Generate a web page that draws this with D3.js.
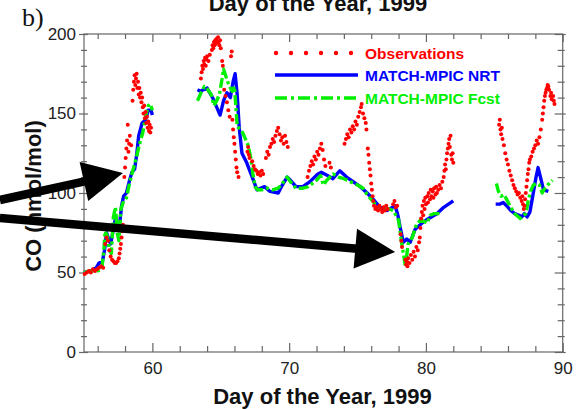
<!DOCTYPE html>
<html>
<head>
<meta charset="utf-8">
<script src="https://cdn.jsdelivr.net/npm/d3@7"></script>
<style>
  html, body { margin: 0; padding: 0; background: #fff; }
  svg { display: block; font-family: "Liberation Sans", Arial, sans-serif; }
</style>
</head>
<body>
<div id="chart"></div>
<script>
// Observed CO (red dots), [day of year, nmol/mol]
var observations = [
  [55.05,49],[55.2,50],[55.35,51],[55.5,50],[55.65,52],[55.8,51],[55.95,52],[56.1,53],[56.25,54],[56.4,53],
  [56.55,68],[56.65,72],[56.75,70],[56.85,64],[56.95,60],[57.05,58],[57.15,57],[57.25,56],[57.35,56],[57.45,57],
  [57.55,59],[57.6,62],[57.65,65],[57.7,68],[57.75,72],[57.8,76],[57.85,80],
  [57.95,110],[58.0,116],[58.05,122],[58.1,128],[58.15,133],[58.2,143],[58.25,126],[58.3,131],[58.35,136],[58.45,130],
  [58.55,158],[58.6,165],[58.65,170],[58.7,174],[58.75,168],[58.8,172],[58.85,175],[58.9,166],[58.95,170],[59.0,162],
  [59.05,166],[59.1,160],[59.15,163],[59.2,157],[59.25,160],[59.3,154],[59.35,150],[59.4,155],[59.45,147],[59.5,151],
  [59.55,144],[59.6,148],[59.65,141],[59.7,145],[59.75,139],[59.8,143],[59.85,138],[59.9,141],
  [63.55,172],[63.6,176],[63.65,180],[63.7,178],[63.75,183],[63.8,181],[63.85,185],[63.9,180],[63.95,184],[64.0,186],
  [64.1,183],[64.2,187],[64.35,190],[64.4,193],[64.45,191],[64.5,195],[64.55,193],[64.6,196],[64.65,194],[64.7,197],
  [64.75,195],[64.8,198],[64.85,195],[64.9,193],[64.95,196],[65.0,191],[65.1,183],[65.15,180],
  [65.25,165],[65.35,161],[65.45,157],[65.55,152],[65.65,148],[65.75,186],[65.8,189],[65.85,146],[65.9,140],[65.95,135],
  [66.0,131],[66.05,126],[66.1,121],[66.15,116],[66.2,113],[66.3,110],
  [66.95,126],[67.0,129],[67.05,124],[67.1,122],[67.3,120],[67.4,117],[67.5,115],[67.6,114],[67.7,112],[67.8,113],
  [67.9,111],[68.0,114],[68.1,112],
  [68.3,122],[68.4,126],[68.5,124],[68.6,129],[68.7,131],[68.8,134],[68.9,132],[69.0,136],[69.1,139],[69.2,141],
  [69.3,137],[69.4,133],[69.5,135],[69.6,131],[69.7,136],[69.8,132],[69.9,129],
  [71.35,110],[71.45,114],[71.55,117],[71.65,120],[71.75,118],[71.85,123],[71.95,121],[72.05,126],[72.15,124],[72.25,128],
  [72.35,131],[72.45,127],[72.55,121],[72.65,117],[72.95,119],[73.05,116],
  [74.05,131],[74.15,134],[74.25,137],[74.35,135],[74.45,140],[74.55,138],[74.65,142],[74.75,140],[74.85,145],[74.95,143],
  [75.05,148],[75.15,151],[75.25,154],[75.3,156],[75.4,150],[75.5,147],[75.6,144],[75.65,140],
  [75.75,128],[75.8,124],[75.85,119],[75.9,115],[75.95,111],[76.0,106],[76.05,102],[76.1,98],[76.15,95],[76.2,92],
  [76.3,90],[76.4,91],[76.5,89],[76.6,92],[76.7,90],[76.8,88],[76.9,91],[77.0,89],[77.1,92],[77.2,90],
  [77.6,93],[77.7,95],[77.8,91],[77.9,92],
  [78.15,74],[78.2,70],[78.25,66],[78.5,58],[78.55,55],[78.6,57],[78.65,54],[78.7,59],[78.8,56],[78.9,61],
  [79.0,58],[79.1,63],[79.2,60],[79.3,66],[79.4,64],[79.5,69],[79.55,72],
  [79.6,78],[79.65,84],[79.7,88],[79.75,92],[79.8,86],[79.85,95],[79.9,90],[79.95,97],[80.0,93],[80.1,98],
  [80.15,94],[80.2,100],[80.3,96],[80.35,102],[80.4,98],[80.5,101],[80.55,97],[80.6,103],[80.7,99],[80.75,104],
  [80.8,100],[80.9,102],[81.0,105],[81.1,103],[81.2,107],[81.3,110],[81.35,114],[81.4,118],[81.45,115],[81.5,121],
  [81.55,125],[81.6,128],[81.65,131],[81.7,134],[81.75,129],[81.8,136],[81.85,124],[81.9,121],[81.95,125],[82.0,119],
  [85.35,143],[85.4,146],[85.45,140],[85.5,137],[85.55,141],[85.6,134],[85.7,130],[85.8,125],[85.9,121],[86.0,118],
  [86.1,114],[86.2,111],[86.3,108],[86.4,105],[86.5,103],[86.6,101],[86.7,99],[86.8,100],[86.9,97],[87.0,95],
  [87.05,98],[87.1,93],[87.15,90],[87.2,92],[87.25,96],[87.3,100],[87.35,104],[87.4,108],[87.45,112],[87.5,115],
  [87.55,119],[87.6,121],[87.7,123],[87.8,126],[87.9,128],[88.0,130],[88.1,133],[88.2,131],[88.3,135],[88.4,140],
  [88.5,146],[88.55,150],[88.6,154],[88.65,158],[88.7,161],[88.75,163],[88.8,165],[88.85,166],[88.9,168],[88.95,167],
  [89.0,165],[89.1,161],[89.15,163],[89.2,159],[89.3,161],[89.35,158],[89.4,156]
];

// MATCH-MPIC NRT (blue); null marks a gap in the model run
var nrt = [
  [55.0,50],[55.5,51],[55.9,53],[56.1,56],[56.35,57],[56.5,64],[56.65,75],[56.8,71],[56.95,68],[57.1,75],
  [57.3,84],[57.45,79],[57.6,80],[57.75,92],[57.9,98],[58.1,100],[58.3,107],[58.5,113],[58.7,115],[58.85,124],
  [59.0,136],[59.25,144],[59.5,146],[59.7,152],[59.9,152],[60.0,149],
  null,
  [63.3,165],[63.5,164],[64.0,166],[64.4,160],[64.7,154],[64.95,149],[65.2,158],[65.45,163],[65.7,160],[65.9,170],
  [66.05,175],[66.2,162],[66.35,141],[66.55,125],[66.9,119],[67.3,110],[67.65,102],[68.2,104],[68.6,101],[69.2,100],
  [69.5,105],[69.85,110],[70.1,108],[70.5,104],[71.0,104],[71.5,107],[72.1,112],[72.35,113],[72.8,111],[73.2,109],
  [73.7,114],[74.2,110],[74.7,107],[75.2,104],[75.7,100],[76.15,96],[76.65,91],[77.15,89],[77.75,92],[77.95,86],
  [78.1,79],[78.35,69],[78.6,71],[78.85,69],[79.2,77],[79.7,81],[80.2,84],[80.8,87],[81.3,91],[82.0,95],
  null,
  [85.1,93],[85.4,93],[85.65,94],[85.9,92],[86.2,89],[86.5,87],[86.8,86],[87.0,85],[87.2,87],[87.4,85],
  [87.6,88],[87.85,100],[88.05,110],[88.2,116],[88.4,109],[88.6,102],[88.95,101]
];

// MATCH-MPIC Fcst (green)
var fcst = [
  [55.0,50],[55.5,51],[56.0,51],[56.3,52],[56.45,64],[56.55,76],[56.7,73],[56.85,64],[57.0,62],[57.15,85],
  [57.3,91],[57.45,74],[57.55,70],[57.7,90],[57.9,95],[58.1,97],[58.3,105],[58.5,112],[58.7,118],[58.9,125],
  [59.1,132],[59.3,138],[59.5,148],[59.7,155],[59.85,156],[60.0,152],
  null,
  [63.3,158],[63.55,163],[63.8,167],[64.05,165],[64.3,162],[64.5,155],[64.7,158],[64.9,162],[65.1,172],[65.2,178],
  [65.35,174],[65.5,170],[65.7,166],[65.85,164],[66.0,167],[66.1,155],[66.2,142],[66.4,140],[66.6,138],[66.8,134],
  [67.0,130],[67.2,122],[67.35,112],[67.5,104],[67.7,102],[68.0,102],[68.4,103],[68.8,102],[69.2,103],[69.5,106],
  [69.85,110],[70.1,107],[70.5,103],[71.0,103],[71.4,104],[71.7,106],[72.0,108],[72.3,111],[72.5,105],[72.75,108],
  [73.2,112],[73.6,110],[74.0,109],[74.5,107],[75.0,105],[75.4,103],[75.7,99],[76.0,96],[76.3,93],[76.6,91],
  [77.0,90],[77.3,90],[77.6,89],[77.8,86],[78.0,83],[78.2,70],[78.35,62],[78.5,54],[78.7,68],[78.85,70],
  [79.0,72],[79.3,80],[79.6,83],[79.9,82],[80.1,81],[80.3,86],[80.6,87],[81.0,87],
  null,
  [85.15,106],[85.3,101],[85.5,98],[85.7,99],[85.9,96],[86.2,91],[86.5,87],[86.9,84],[87.1,86],[87.3,87],
  [87.5,96],[87.65,101],[87.85,105],[88.1,106],[88.3,105],[88.5,100],[88.7,103],[88.9,105],[89.25,108]
];

var xMajorTicks = [60, 70, 80, 90];
var xMinorTicks = [56, 58, 62, 64, 66, 68, 72, 74, 76, 78, 82, 84, 86, 88];
var yMajorTicks = [0, 50, 100, 150, 200];
var yMinorTicks = [10, 20, 30, 40, 60, 70, 80, 90, 110, 120, 130, 140, 160, 170, 180, 190];

var seriesNames = ['Observations', 'MATCH-MPIC NRT', 'MATCH-MPIC Fcst'];
var xTitle = 'Day of the Year, 1999';
var yTitle = 'CO (nmol/mol)';

// annotation arrows: [tail, tip] in data units
var arrows = [
  [[48.85, 95.6], [57.85, 112.6]],
  [[48.85, 84.3], [77.75, 62.9]]
];

(function () {
  'use strict';

  var width = 581, height = 409;
  var red = '#ff0000', blue = '#0000ff', green = '#00f000';
  var axisColor = '#666';

  var x = d3.scaleLinear().domain([55, 90]).range([84, 562.7]);
  var y = d3.scaleLinear().domain([0, 200]).range([352, 34]);

  var svg = d3.select('#chart').append('svg')
    .attr('width', width)
    .attr('height', height);

  // title of the panel above, partly cut off by the crop
  svg.append('text')
    .attr('x', 318).attr('y', 11)
    .attr('text-anchor', 'middle')
    .attr('font-size', 22).attr('font-weight', 'bold')
    .attr('fill', '#111')
    .text(xTitle);

  svg.append('text')
    .attr('x', 22).attr('y', 26)
    .attr('font-family', '"Liberation Serif", "Times New Roman", serif')
    .attr('font-size', 26)
    .attr('fill', '#111')
    .text('b)');

  // frame
  svg.append('rect')
    .attr('x', x(55)).attr('y', y(200))
    .attr('width', x(90) - x(55)).attr('height', y(0) - y(200))
    .attr('fill', 'none').attr('stroke', axisColor).attr('stroke-width', 1.2);

  function styleAxis(g) {
    g.select('.domain').remove();
    g.selectAll('.tick line').attr('stroke', axisColor).attr('stroke-width', 1.2);
    g.selectAll('.tick text')
      .attr('font-size', 17)
      .attr('font-family', '"Liberation Sans", Arial, sans-serif')
      .attr('fill', '#222');
  }

  // bottom axis, ticks pointing inward
  svg.append('g').attr('transform', 'translate(0,' + y(0) + ')')
    .call(d3.axisBottom(x).tickValues(xMinorTicks).tickSize(-6).tickFormat(''))
    .call(styleAxis);
  svg.append('g').attr('transform', 'translate(0,' + y(0) + ')')
    .call(d3.axisBottom(x).tickValues(xMajorTicks).tickSize(-9).tickPadding(10).tickFormat(d3.format('d')))
    .call(styleAxis);

  // top axis
  svg.append('g').attr('transform', 'translate(0,' + y(200) + ')')
    .call(d3.axisTop(x).tickValues(xMinorTicks).tickSize(-5).tickFormat(''))
    .call(styleAxis);
  svg.append('g').attr('transform', 'translate(0,' + y(200) + ')')
    .call(d3.axisTop(x).tickValues(xMajorTicks).tickSize(-8).tickFormat(''))
    .call(styleAxis);

  // left axis, ticks cross the axis line
  svg.append('g').attr('transform', 'translate(' + x(55) + ',0)')
    .call(d3.axisLeft(y).tickValues(yMinorTicks).tickSize(3).tickFormat(''))
    .call(styleAxis)
    .selectAll('.tick line').attr('x2', -3).attr('x1', 3);
  svg.append('g').attr('transform', 'translate(' + x(55) + ',0)')
    .call(d3.axisLeft(y).tickValues(yMajorTicks).tickSize(5).tickPadding(3).tickFormat(d3.format('d')))
    .call(styleAxis)
    .selectAll('.tick line').attr('x2', -5).attr('x1', 4);

  // right axis
  svg.append('g').attr('transform', 'translate(' + x(90) + ',0)')
    .call(d3.axisRight(y).tickValues(yMinorTicks).tickSize(-5).tickFormat(''))
    .call(styleAxis)
    .selectAll('.tick line').attr('x1', 2);
  svg.append('g').attr('transform', 'translate(' + x(90) + ',0)')
    .call(d3.axisRight(y).tickValues(yMajorTicks).tickSize(-8).tickFormat(''))
    .call(styleAxis)
    .selectAll('.tick line').attr('x1', 3);

  // axis titles
  svg.append('text')
    .attr('x', 322.5).attr('y', 404)
    .attr('text-anchor', 'middle')
    .attr('font-size', 22).attr('font-weight', 'bold')
    .attr('fill', '#111')
    .text(xTitle);

  svg.append('text')
    .attr('transform', 'translate(41,196) rotate(-90)')
    .attr('text-anchor', 'middle')
    .attr('font-size', 22).attr('font-weight', 'bold')
    .attr('fill', '#111')
    .text(yTitle);

  // model lines
  var line = d3.line()
    .defined(function (d) { return d !== null; })
    .x(function (d) { return x(d[0]); })
    .y(function (d) { return y(d[1]); });

  svg.append('path')
    .datum(nrt)
    .attr('d', line)
    .attr('fill', 'none')
    .attr('stroke', blue)
    .attr('stroke-width', 3.4)
    .attr('stroke-linejoin', 'round');

  svg.append('path')
    .datum(fcst)
    .attr('d', line)
    .attr('fill', 'none')
    .attr('stroke', green)
    .attr('stroke-width', 3.4)
    .attr('stroke-dasharray', '10,3,3,3')
    .attr('stroke-linejoin', 'round');

  // observations
  svg.append('g')
    .selectAll('circle')
    .data(observations)
    .join('circle')
    .attr('cx', function (d) { return x(d[0]); })
    .attr('cy', function (d) { return y(d[1]); })
    .attr('r', 2)
    .attr('fill', red);

  // legend
  var legend = svg.append('g');
  var legendRows = [
    { name: seriesNames[0], color: red, y: 53 },
    { name: seriesNames[1], color: blue, y: 75 },
    { name: seriesNames[2], color: green, y: 98 }
  ];
  d3.range(6).forEach(function (i) {
    legend.append('circle')
      .attr('cx', 276 + i * 15).attr('cy', legendRows[0].y)
      .attr('r', 2.2).attr('fill', red);
  });
  legend.append('line')
    .attr('x1', 275).attr('x2', 358)
    .attr('y1', legendRows[1].y).attr('y2', legendRows[1].y)
    .attr('stroke', blue).attr('stroke-width', 3.6);
  legend.append('line')
    .attr('x1', 275).attr('x2', 358)
    .attr('y1', legendRows[2].y).attr('y2', legendRows[2].y)
    .attr('stroke', green).attr('stroke-width', 3.6)
    .attr('stroke-dasharray', '12,4,3,4');
  legend.selectAll('text')
    .data(legendRows)
    .join('text')
    .attr('x', 365)
    .attr('y', function (d) { return d.y + 5.5; })
    .attr('font-size', 15.5).attr('font-weight', 'bold')
    .attr('fill', function (d) { return d.color; })
    .text(function (d) { return d.name; });

  // black annotation arrows, drawn on top
  arrows.forEach(function (a) {
    var x0 = x(a[0][0]), y0 = y(a[0][1]);
    var x1 = x(a[1][0]), y1 = y(a[1][1]);
    var dx = x1 - x0, dy = y1 - y0;
    var len = Math.sqrt(dx * dx + dy * dy);
    var ux = dx / len, uy = dy / len;
    var headLen = 40, headHalf = 20;
    var bx = x1 - ux * headLen, by = y1 - uy * headLen;
    svg.append('line')
      .attr('x1', x0).attr('y1', y0)
      .attr('x2', bx + ux * 2).attr('y2', by + uy * 2)
      .attr('stroke', '#000').attr('stroke-width', 8.5);
    svg.append('path')
      .attr('d', 'M' + x1 + ',' + y1 +
        'L' + (bx - uy * headHalf) + ',' + (by + ux * headHalf) +
        'L' + (bx + uy * headHalf) + ',' + (by - ux * headHalf) + 'Z')
      .attr('fill', '#000');
  });
})();
</script>
</body>
</html>
